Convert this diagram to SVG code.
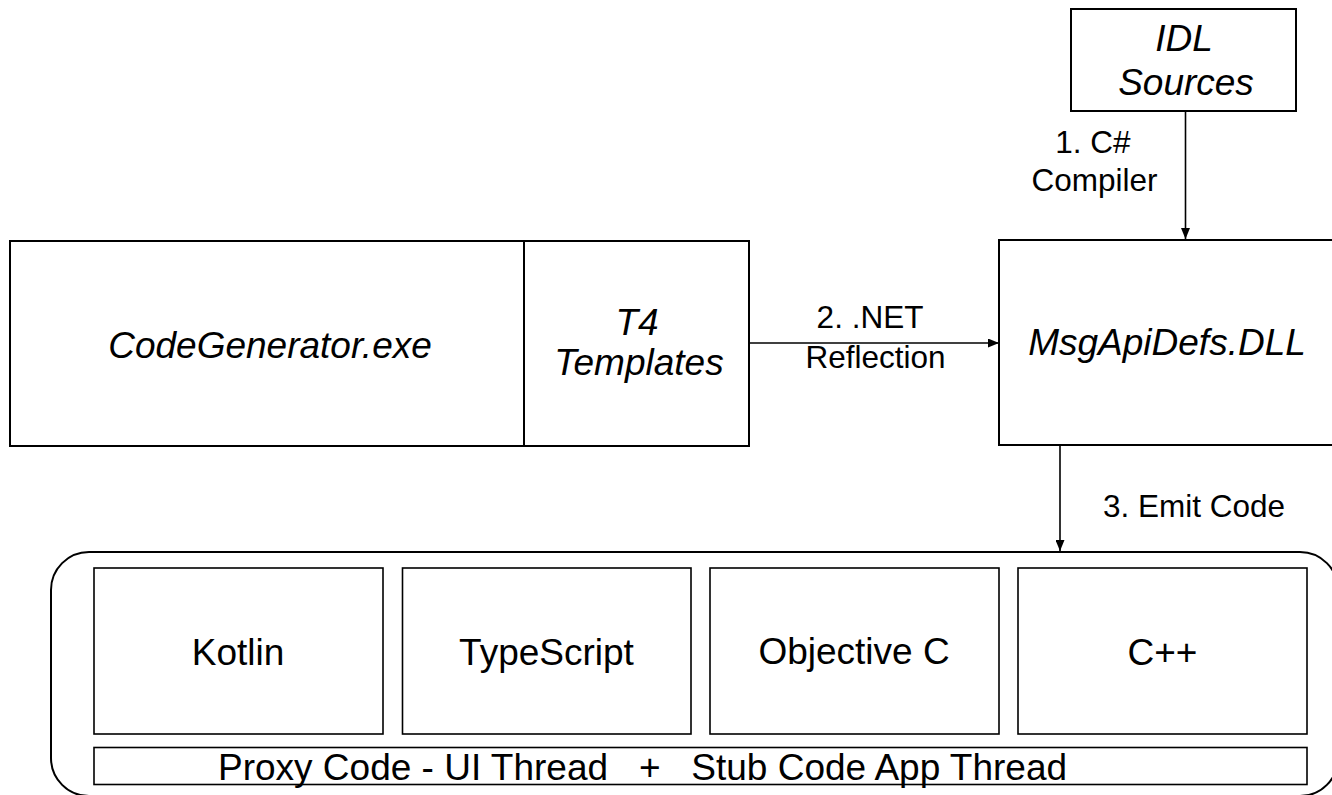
<svg xmlns="http://www.w3.org/2000/svg" width="1332" height="795" viewBox="0 0 1332 795">
<style>
.box{fill:#fff;stroke:#000;stroke-width:2}
.inner{fill:#fff;stroke:#000;stroke-width:1.6}
.lbl{font-family:"Liberation Sans",Arial,sans-serif;font-size:37px;fill:#000;text-anchor:middle}
.it{font-style:italic}
.edge{font-family:"Liberation Sans",Arial,sans-serif;font-size:31.5px;fill:#000;text-anchor:middle}
.conn{stroke:#000;stroke-width:1.6;fill:none;marker-end:url(#arr)}
</style>
<defs>
<marker id="arr" markerUnits="userSpaceOnUse" markerWidth="11" markerHeight="9" refX="11" refY="4.5" orient="auto">
<path d="M0,0 L11,4.5 L0,9 z" fill="#000"/>
</marker>
</defs>
<rect width="1332" height="795" fill="#fff"/>
<g id="idl">
<rect class="box" x="1071" y="9" width="225" height="102"/>
<text class="lbl it" x="1184" y="51">IDL</text>
<text class="lbl it" x="1186" y="95">Sources</text>
</g>
<g id="codegen">
<rect class="box" x="10" y="241" width="514" height="205"/>
<text class="lbl it" x="270" y="358">CodeGenerator.exe</text>
</g>
<g id="t4">
<rect class="box" x="524" y="241" width="225" height="205"/>
<text class="lbl it" x="637" y="335">T4</text>
<text class="lbl it" x="639" y="375">Templates</text>
</g>
<g id="msgapi">
<rect class="box" x="999" y="240" width="340" height="205"/>
<text class="lbl it" x="1167" y="355">MsgApiDefs.DLL</text>
</g>
<g id="output">
<rect class="box" x="51" y="552" width="1287" height="244" rx="38" ry="38"/>
</g>
<g id="kotlin">
<rect class="inner" x="94" y="568" width="289" height="166"/>
<text class="lbl" x="238" y="665">Kotlin</text>
</g>
<g id="typescript">
<rect class="inner" x="402.5" y="568" width="288.5" height="166"/>
<text class="lbl" x="546.5" y="665">TypeScript</text>
</g>
<g id="objc">
<rect class="inner" x="710" y="568" width="289" height="166"/>
<text class="lbl" x="854" y="664">Objective C</text>
</g>
<g id="cpp">
<rect class="inner" x="1018" y="568" width="289" height="166"/>
<text class="lbl" x="1162.5" y="665">C++</text>
</g>
<g id="threads">
<rect class="inner" x="94" y="747.5" width="1213" height="37"/>
<text class="lbl" x="218" y="780" style="text-anchor:start" xml:space="preserve">Proxy Code - UI Thread   +   Stub Code App Thread</text>
</g>
<g id="connectors">
<line class="conn" x1="1185.5" y1="111" x2="1185.5" y2="239"/>
<line class="conn" x1="749" y1="343" x2="999" y2="343"/>
<line class="conn" x1="1060" y1="445" x2="1060" y2="551"/>
<text class="edge" x="1093" y="153">1. C#</text>
<text class="edge" x="1094.5" y="191">Compiler</text>
<text class="edge" x="870" y="328">2. .NET</text>
<text class="edge" x="875.5" y="368">Reflection</text>
<text class="edge" x="1194" y="517">3. Emit Code</text>
</g>
</svg>
